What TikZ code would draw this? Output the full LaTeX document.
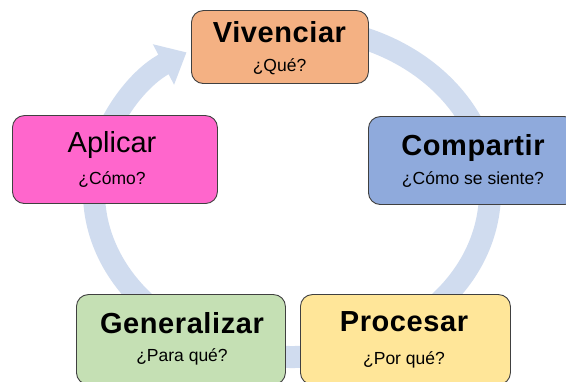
\documentclass[tikz,border=0pt]{standalone}
\usepackage{fontspec}
\setmainfont{Liberation Sans}
\newfontfamily\widebold[LetterSpace=2.0]{Liberation Sans Bold}
\usetikzlibrary{arrows.meta,calc}
\definecolor{bandcol}{RGB}{208,220,239}
\definecolor{edgecol}{RGB}{64,64,64}
\definecolor{vivcol}{RGB}{244,177,131}
\definecolor{aplcol}{RGB}{255,102,204}
\definecolor{comcol}{RGB}{143,170,220}
\definecolor{gencol}{RGB}{197,224,180}
\definecolor{procol}{RGB}{255,230,153}
\begin{document}
\begin{tikzpicture}[x=1pt,y=1pt,
  box/.style={draw=edgecol, line width=0.9pt, rounded corners=12pt, anchor=south west, inner sep=0pt},
  ttl/.style={font=\widebold\fontsize{29}{31}\selectfont, inner sep=0pt},
  ttlreg/.style={font=\fontsize{29}{31}\selectfont, inner sep=0pt},
  sub/.style={font=\fontsize{17.5}{19}\selectfont, inner sep=0pt}]
\clip (0,0) rectangle (566,381);
\fill[white] (0,0) rectangle (566,381);
\coordinate (cc) at (292,189);
\draw[bandcol, line width=22pt, -{Triangle[width=44pt,length=26pt]}]
  ($(cc)+(80:198 and 165)$) arc[start angle=80, end angle=-237.8, x radius=198, y radius=165];
% boxes
\node[box, fill=vivcol, minimum width=177pt, minimum height=73pt] (viv) at (191,297) {};
\node[box, fill=aplcol, minimum width=205pt, minimum height=88pt] (apl) at (12,177) {};
\node[box, fill=comcol, minimum width=208pt, minimum height=88pt] (com) at (368,176) {};
\node[box, fill=gencol, minimum width=209pt, minimum height=90pt] (gen) at (76,-4) {};
\node[box, fill=procol, minimum width=210pt, minimum height=90pt] (pro) at (300,-4) {};
% texts
\node[ttl] (vivT) at (279.5,349) {Vivenciar};
\node[sub] (vivS) at (279.5,314) {¿Qué?};
\node[ttlreg] (aplT) at (112,236) {Aplicar};
\node[sub] (aplS) at (112,201) {¿Cómo?};
\node[ttl] (comT) at (473,233) {Compartir};
\node[sub] (comS) at (473,201) {¿Cómo se siente?};
\node[ttl] (genT) at (182,58) {Generalizar};
\node[sub] (genS) at (182,24) {¿Para qué?};
\node[ttl] (proT) at (404,59) {Procesar};
\node[sub] (proS) at (404,21) {¿Por qué?};
\end{tikzpicture}
\end{document}
